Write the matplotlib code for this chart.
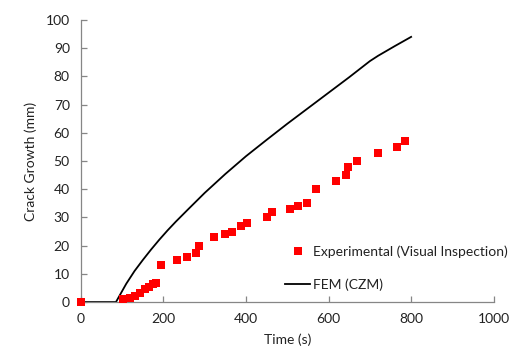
import numpy as np
import matplotlib.pyplot as plt

plt.rcParams['font.family'] = ['Lato', 'DejaVu Sans']

# experimental crack growth from visual inspection
exp_time = [0, 102, 118, 130, 143, 155, 165, 175, 183, 193, 233, 257, 278, 287,
            323, 350, 365, 388, 402, 452, 462, 507, 527, 547, 569, 618, 643, 648,
            668, 720, 765, 784]
exp_crack = [0, 1, 1.5, 2, 3.3, 4.5, 5.4, 6.4, 6.8, 13, 15, 16, 17.5, 20,
             23, 24, 25, 27, 28, 30, 32, 33, 34, 35, 40, 43, 45, 48,
             50, 53, 55, 57]

# cohesive zone model prediction
fem_time = [0, 85, 95, 110, 130, 150, 170, 190, 210, 230, 260, 300, 350, 400,
            450, 500, 550, 600, 650, 700, 720, 760, 800]
fem_crack = [0, 0, 2.6, 6.5, 11.0, 14.9, 18.6, 22.1, 25.4, 28.5, 32.9, 38.7,
             45.4, 51.7, 57.5, 63.2, 68.7, 74.2, 79.7, 85.4, 87.3, 90.7, 94]

fig = plt.figure(figsize=(5.32, 3.5), dpi=100)
ax = fig.add_axes([0.152, 0.137, 0.776, 0.806])

ax.plot(exp_time, exp_crack, linestyle='none', marker='s', markersize=6,
        color='#ff0000', markeredgewidth=0, label='Experimental (Visual Inspection)',
        zorder=3, clip_on=False)
ax.plot(fem_time, fem_crack, color='black', linewidth=1.3, label='FEM (CZM)')

ax.set_xlim(0, 1000)
ax.set_ylim(0, 100)
ax.set_xticks(np.arange(0, 1001, 200))
ax.set_yticks(np.arange(0, 101, 10))

for side in ['top', 'right']:
    ax.spines[side].set_visible(False)
for side in ['left', 'bottom']:
    ax.spines[side].set_color('#868686')
    ax.spines[side].set_linewidth(0.9)

ax.tick_params(direction='in', length=4, width=0.9, color='#868686',
               labelsize=10, labelcolor='#222222')
ax.tick_params(axis='x', pad=8)
ax.tick_params(axis='y', pad=8)

ax.set_xlabel('Time (s)', fontsize=10, color='#222222', labelpad=6)
ax.set_ylabel('Crack Growth (mm)', fontsize=10, color='#222222', labelpad=6)

ax.legend(loc='lower left', bbox_to_anchor=(0.495, 0.039), frameon=False,
          fontsize=10, borderpad=0, borderaxespad=0, handlelength=1.8,
          handletextpad=0.2, labelspacing=1.5, labelcolor='#222222')

fig.savefig('out.png', dpi=100)
